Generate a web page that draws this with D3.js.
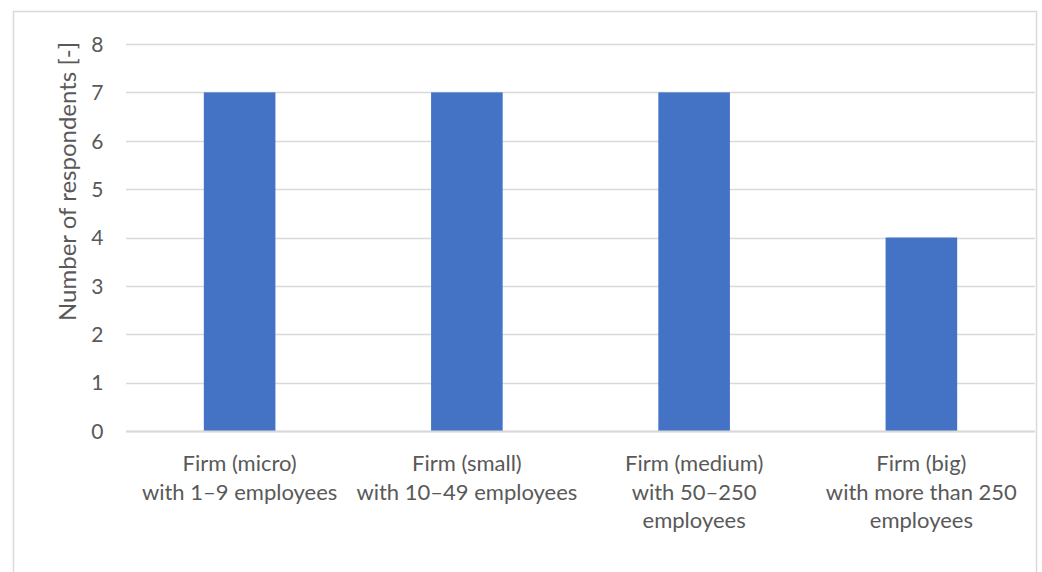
<!DOCTYPE html>
<html>
<head>
<meta charset="utf-8">
<script src="https://cdn.jsdelivr.net/npm/d3@7"></script>
<style>
  html, body { margin: 0; padding: 0; background: #fff; }
  svg { display: block; }
</style>
</head>
<body>
<svg id="chart" width="1042" height="572"></svg>
<script>
const categories = [
  ["Firm (micro)", "with 1–9 employees"],
  ["Firm (small)", "with 10–49 employees"],
  ["Firm (medium)", "with 50–250", "employees"],
  ["Firm (big)", "with more than 250", "employees"]
];
const values = [7, 7, 7, 4];
const yTicks = [0, 1, 2, 3, 4, 5, 6, 7, 8];
const yTitle = "Number of respondents [-]";

const plot = { left: 126, right: 1035, top: 44, bottom: 431 };
const font = "Lato, 'Open Sans', sans-serif";
const textColor = "#595959";

const svg = d3.select("#chart");

svg.append("rect")
  .attr("x", 13.5).attr("y", 11.5)
  .attr("width", 1036.5 - 13.5).attr("height", 600)
  .attr("fill", "#fff").attr("stroke", "#d9d9d9").attr("stroke-width", 1.5);

const x = d3.scaleBand()
  .domain(d3.range(categories.length))
  .range([plot.left, plot.right])
  .paddingInner(0.685)
  .paddingOuter(0.3425);

const y = d3.scaleLinear().domain([0, 8]).range([plot.bottom, plot.top]);

// gridlines
svg.append("g")
  .selectAll("line")
  .data(yTicks)
  .join("line")
  .attr("x1", plot.left).attr("x2", plot.right)
  .attr("y1", d => Math.round(y(d)) + 0.5).attr("y2", d => Math.round(y(d)) + 0.5)
  .attr("stroke", "#d9d9d9").attr("stroke-width", 1.5);

// bars
svg.append("g")
  .selectAll("rect")
  .data(values)
  .join("rect")
  .attr("x", (d, i) => x(i))
  .attr("width", x.bandwidth())
  .attr("y", d => y(d))
  .attr("height", d => y(0) - y(d))
  .attr("fill", "#4472C4");

// baseline axis
svg.append("line")
  .attr("x1", plot.left).attr("x2", plot.right)
  .attr("y1", Math.round(y(0)) + 0.5).attr("y2", Math.round(y(0)) + 0.5)
  .attr("stroke", "#d9d9d9").attr("stroke-width", 2);

// y axis labels via d3 axis
const yAxis = svg.append("g")
  .attr("transform", `translate(${plot.left - 22.5},0)`)
  .call(d3.axisLeft(y).tickValues(yTicks).tickSize(0).tickPadding(0).tickFormat(d3.format("d")));
yAxis.select(".domain").remove();
yAxis.selectAll("text")
  .attr("font-family", font).attr("font-size", 21)
  .attr("fill", textColor).attr("dy", "0.35em");

// x category labels
const xl = svg.append("g")
  .selectAll("text")
  .data(categories)
  .join("text")
  .attr("x", (d, i) => x(i) + x.bandwidth() / 2)
  .attr("y", 471)
  .attr("text-anchor", "middle")
  .attr("font-family", font).attr("font-size", 22)
  .attr("fill", textColor);
xl.selectAll("tspan")
  .data(d => d)
  .join("tspan")
  .attr("x", function() { return d3.select(this.parentNode).attr("x"); })
  .attr("dy", (d, i) => i === 0 ? 0 : 28.5)
  .text(d => d);

// y title
svg.append("text")
  .attr("transform", `translate(76,181.5) rotate(-90)`)
  .attr("text-anchor", "middle")
  .attr("font-family", font).attr("font-size", 24)
  .attr("fill", textColor)
  .text(yTitle);
</script>
</body>
</html>
